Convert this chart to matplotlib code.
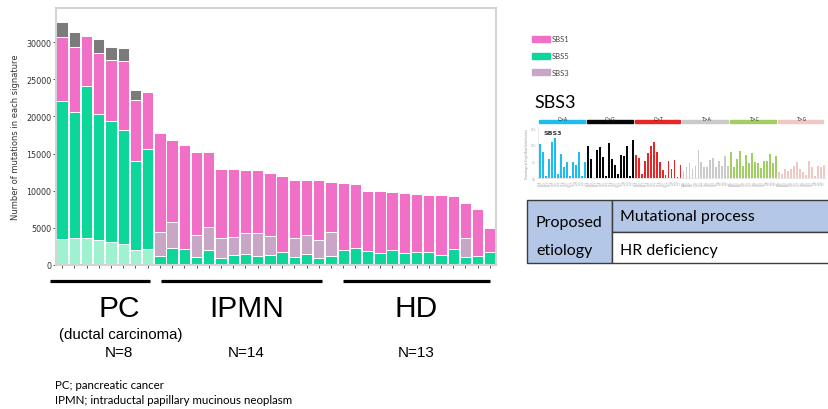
import numpy as np
import matplotlib
matplotlib.use("Agg")
import matplotlib.pyplot as plt
import matplotlib.transforms as mtransforms
from matplotlib.patches import Rectangle

####################### DATA : mutations per sample (stacked) #######################
# 8 PC + 28 IPMN/HD samples
other_sig = [3470, 3560, 3560, 3290, 3020, 2840, 1940, 2070] + [0] * 28
sbs5 = [18570, 17000, 20510, 17040, 16320, 15330, 12010, 13490,
        1125, 2295, 2115, 1080, 2025, 930, 1330, 1485, 1190, 1305, 1665, 1035,
        1395, 945, 1215, 2025, 2210, 1810, 1620, 2025, 1620, 1755, 1665, 1260,
        2070, 990, 1130, 1710]
sbs3 = [0] * 8 + [3240, 3415, 0, 2970, 3015, 2715, 2380, 2815, 3110, 2580, 0,
                  2610, 2610, 2385, 3150, 0, 0, 0, 0, 0, 0, 0, 0, 0, 0, 2655, 0, 0]
sbs1 = [8640, 8810, 6835, 8190, 8280, 9270, 8235, 7740,
        13355, 11070, 14075, 11110, 10120, 9225, 9160, 8520, 8430, 8485, 10345,
        7735, 7375, 8050, 6790, 8950, 8635, 8130, 8275, 7735, 8095, 7780, 7780,
        8095, 7195, 4635, 6385, 3280]
unassigned = [2110, 1980, 0, 1930, 1710, 1840, 1435, 0] + [0] * 28

groups = ["PC", "IPMN", "HD"]
group_n = ["N=8", "N=14", "N=13"]
group_span = [(-1.0, 7.2), (8.05, 21.3), (22.95, 35.0)]  # underline extent (bar units)
group_center = [4.65, 15.1, 29.0]

####################### DATA : SBS3 reference profile #######################
mut_types = ["C>A", "C>G", "C>T", "T>A", "T>C", "T>G"]
ca = [10.3, 7.8, 0.8, 5.8, 10.8, 12.0, 1.3, 7.3, 3.3, 5.0, 0.6, 4.8, 4.1, 8.0, 0.6, 4.8]
cg = [9.6, 5.8, 0.2, 8.5, 9.3, 6.5, 0.6, 10.6, 5.8, 4.1, 1.3, 7.0, 6.6, 9.8, 0.6, 11.5]
ct = [7.0, 6.0, 1.3, 5.3, 7.6, 9.6, 11.0, 7.8, 5.0, 2.5, 1.0, 5.3, 2.8, 5.5, 0.5, 4.1]
ta = [2.3, 3.5, 4.6, 2.8, 3.8, 8.6, 5.0, 3.3, 3.5, 5.6, 6.1, 3.3, 5.3, 3.8, 6.6, 3.6]
tc = [7.8, 3.5, 5.8, 8.3, 3.8, 7.0, 4.6, 7.6, 4.8, 4.6, 3.0, 5.3, 5.1, 7.3, 4.5, 6.8]
tg = [2.0, 1.2, 2.8, 2.3, 2.8, 3.6, 5.0, 2.8, 2.0, 1.1, 5.3, 3.3, 0.8, 3.8, 3.3, 4.0]
type_colors = ["#1ebdf0", "#050708", "#e62725", "#cbcacb", "#a1ce63", "#edc8c5"]

####################### FIGURE #######################
c_pink = "#f26fc7"
c_green = "#0cd699"
c_mint = "#9ef2cf"
c_mauve = "#c8a6c6"
c_gray = "#7b7b7b"

fig = plt.figure(figsize=(8.29, 4.10), dpi=100)
W, H = 829.0, 410.0

ov = fig.add_axes([0, 0, 1, 1])
ov.set_xlim(0, W)
ov.set_ylim(H, 0)
ov.axis("off")

ax = fig.add_axes([56 / W, 1 - 265.7 / H, 440 / W, (265.7 - 9.3) / H])
x = np.arange(len(sbs5))
bottom = np.zeros(len(x))
for vals, col in [(other_sig, c_mint), (sbs5, c_green), (sbs3, c_mauve),
                  (sbs1, c_pink), (unassigned, c_gray)]:
    vals = np.array(vals, dtype=float)
    ax.bar(x, vals, bottom=bottom, width=0.92, color=col, edgecolor="white", linewidth=0.7)
    bottom += vals

ax.set_xlim(-0.5, len(x) - 0.5)
ax.set_ylim(0, 34600)
ax.set_xticks(x)
ax.set_xticklabels([])
ax.set_yticks(np.arange(0, 30001, 5000))
ax.tick_params(axis="y", labelsize=5.8, length=2, width=0.6, pad=1.5, colors="#333333")
ax.tick_params(axis="x", length=2, width=0.6, colors="#333333")
for s in ax.spines.values():
    s.set_color("#d4d4d4")
    s.set_linewidth(1.5)
ax.set_ylabel("Number of mutations in each signature", fontsize=6, color="#333333", labelpad=4)

# group underline + labels
trans = mtransforms.blended_transform_factory(ax.transData, fig.transFigure)
for (a, b), name, n, cx in zip(group_span, groups, group_n, group_center):
    ax.plot([a, b], [1 - 281.7 / H] * 2, color="black", lw=2.3, transform=trans,
            clip_on=False, solid_capstyle="butt")
    ax.text(cx, 1 - 309 / H, name, transform=trans, ha="center", va="center",
            fontsize=21.5, family="Liberation Sans")
    ax.text(cx, 1 - 353.5 / H, n, transform=trans, ha="center", va="center",
            fontsize=11, family="Liberation Sans")
ax.text(group_center[0] + 0.15, 1 - 335 / H, "(ductal carcinoma)", transform=trans,
        ha="center", va="center", fontsize=10.8, family="Liberation Sans")

ov.text(55, 385.7, "PC; pancreatic cancer", fontsize=8.3, family="Lato", va="center")
ov.text(55, 401, "IPMN; intraductal papillary mucinous neoplasm", fontsize=8.3,
        family="Lato", va="center")

# legend
for i, (lab, col) in enumerate([("SBS1", c_pink), ("SBS5", c_green), ("SBS3", c_mauve)]):
    yc = 40 + i * 16.7
    ov.add_patch(Rectangle((531.7, yc - 3), 18.5, 6, color=col))
    ov.text(552, yc, lab, fontsize=5.5, family="Lato", va="center", color="#444444")

ov.text(534, 103.5, "SBS3", fontsize=13, family="Lato", va="center")

# SBS3 profile
prof = ca + cg + ct + ta + tc + tg
bases = ["A", "C", "G", "T"]
ctx = []
for m in mut_types:
    for l in bases:
        for r in bases:
            ctx.append(l + m[0] + r)
pcolors = [c for c in type_colors for _ in range(16)]
ax2 = fig.add_axes([538 / W, 1 - 179.3 / H, 288 / W, 51.3 / H])
xp = np.arange(len(prof))
ax2.bar(xp, prof, width=0.6, color=pcolors)
ax2.set_xlim(-0.8, len(prof) - 0.2)
ax2.set_ylim(0, 15.4)
ax2.set_xticks(xp)
ax2.set_xticklabels(ctx, rotation=90, fontsize=1.8, color="#9aa4b0")
ax2.set_yticks([0, 5, 10, 15])
ax2.set_yticklabels(["0%", "5%", "10%", "15%"], fontsize=1.8, color="#888888")
ax2.tick_params(length=0.8, width=0.3, pad=0.5, colors="#aaaaaa")
for s in ["top", "right"]:
    ax2.spines[s].set_visible(False)
for s in ["left", "bottom"]:
    ax2.spines[s].set_color("#dddddd")
    ax2.spines[s].set_linewidth(0.4)
ax2.set_ylabel("Percentage of Single Base Substitutions", fontsize=1.8, color="#888888", labelpad=1)
ax2.text(1, 13.8, "SBS3", fontsize=4.5, fontweight="bold", color="#333333", va="center")
t2 = mtransforms.blended_transform_factory(ax2.transData, ax2.transAxes)
for i, (m, col) in enumerate(zip(mut_types, type_colors)):
    ax2.add_patch(Rectangle((i * 16 - 0.4, 1.08), 15.3, 0.06, color=col,
                            transform=t2, clip_on=False))
    ax2.text(i * 16 + 7.5, 1.17, m, fontsize=3.3, ha="center", va="center",
             transform=t2, color="#222222")

# etiology table
blue = "#b4c7e7"
edge = "#3c3c3c"
ov.add_patch(Rectangle((526.7, 201), 85, 63, facecolor=blue, edgecolor=edge, lw=1))
ov.add_patch(Rectangle((611.7, 201), 230, 31.7, facecolor=blue, edgecolor=edge, lw=1))
ov.add_patch(Rectangle((611.7, 232.7), 230, 31.3, facecolor="white", edgecolor=edge, lw=1))
ov.text(536, 223, "Proposed", fontsize=11.5, family="Lato", va="center")
ov.text(536, 251.5, "etiology", fontsize=11.5, family="Lato", va="center")
ov.text(620, 216.7, "Mutational process", fontsize=11.5, family="Lato", va="center")
ov.text(620, 250.5, "HR deficiency", fontsize=11.5, family="Lato", va="center")

fig.savefig("out.png", dpi=100)
